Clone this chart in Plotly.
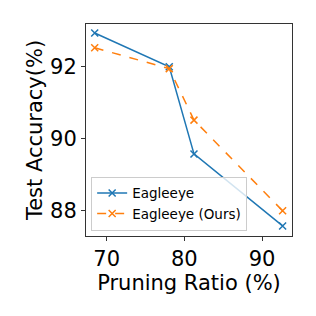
import plotly.graph_objects as go

pruning_ratio = [68.46, 78.06, 81.24, 92.65]
acc_eagleeye = [92.94, 92.0, 89.58, 87.58]
acc_ours = [92.53, 91.95, 90.52, 88.0]
x_ticks = [70, 80, 90]
y_ticks = [88, 90, 92]

fig = go.Figure()
fig.add_trace(go.Scatter(
    x=pruning_ratio, y=acc_eagleeye, mode="lines+markers", name="Eagleeye",
    line=dict(color="#1f77b4", width=1.5),
    marker=dict(symbol="x-thin", size=7, line=dict(color="#1f77b4", width=1.5)),
))
fig.add_trace(go.Scatter(
    x=pruning_ratio, y=acc_ours, mode="lines+markers", name="Eagleeye (Ours)",
    line=dict(color="#ff7f0e", width=1.5, dash="dash"),
    marker=dict(symbol="x-thin", size=7, line=dict(color="#ff7f0e", width=1.5)),
))

axis_common = dict(
    showline=True, mirror=True, linecolor="#333333", linewidth=1,
    showgrid=False, zeroline=False, ticks="outside", ticklen=4,
    tickcolor="#333333", tickfont=dict(family="DejaVu Sans", size=21, color="black"),
    automargin=False,
)
fig.update_xaxes(range=[67.34, 93.86], tickvals=x_ticks,
                 title=dict(text="Pruning Ratio (%)", font=dict(family="DejaVu Sans", size=21, color="black"), standoff=1),
                 **axis_common)
fig.update_yaxes(range=[87.30, 93.19], tickvals=y_ticks,
                 title=dict(text="Test Accuracy(%)", font=dict(family="DejaVu Sans", size=21, color="black"), standoff=1),
                 **axis_common)

fig.update_layout(
    width=308, height=308,
    margin=dict(l=78, r=24, t=16, b=80),
    plot_bgcolor="white", paper_bgcolor="white",
    showlegend=True,
    legend=dict(x=0.025, y=0.025, xanchor="left", yanchor="bottom",
                bgcolor="rgba(255,255,255,0.8)", bordercolor="#cccccc", borderwidth=1,
                font=dict(family="DejaVu Sans", size=13.5, color="black"),
                tracegroupgap=0, itemwidth=30),
)

fig.write_html("out.html")
